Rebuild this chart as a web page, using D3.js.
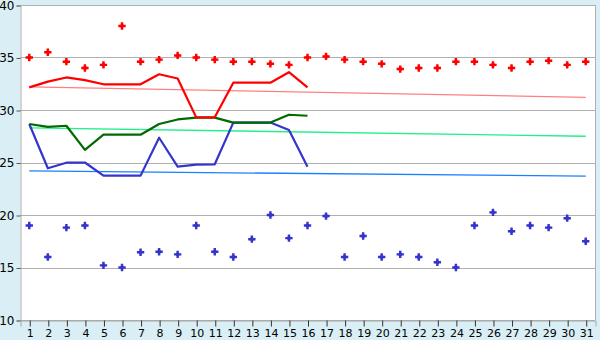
<!DOCTYPE html>
<html>
<head>
<meta charset="utf-8">
<script src="https://cdn.jsdelivr.net/npm/d3@7"></script>
<style>
  html, body { margin: 0; padding: 0; background: #d9eef5; }
  svg { display: block; }
</style>
</head>
<body>
<svg id="chart" width="600" height="340"></svg>
<script>
const days = d3.range(1, 32);
const yTicks = [10, 15, 20, 25, 30, 35, 40];

// scatter series
const redPoints = [35.0, 35.5, 34.6, 34.0, 34.3, 38.0, 34.6, 34.8, 35.2, 35.0,
                   34.8, 34.6, 34.6, 34.4, 34.3, 35.0, 35.1, 34.8, 34.6, 34.4,
                   33.9, 34.0, 34.0, 34.6, 34.6, 34.3, 34.0, 34.6, 34.7, 34.3, 34.6];
const bluePoints = [19.0, 16.0, 18.8, 19.0, 15.2, 15.0, 16.45, 16.5, 16.25, 19.0,
                    16.5, 16.0, 17.7, 20.0, 17.8, 19.0, 19.9, 16.0, 18.0, 16.0,
                    16.25, 16.0, 15.5, 15.0, 19.0, 20.25, 18.45, 19.0, 18.8, 19.7, 17.5];

// thick line series (days 1-16)
const redLine = [32.15, 32.7, 33.1, 32.85, 32.45, 32.45, 32.45, 33.4, 33.0, 29.3,
                 29.3, 32.6, 32.6, 32.6, 33.6, 32.15];
const greenLine = [28.67, 28.4, 28.5, 26.2, 27.65, 27.65, 27.65, 28.67, 29.1, 29.27,
                   29.27, 28.8, 28.8, 28.8, 29.55, 29.45];
const blueLine = [28.67, 24.45, 24.98, 25.0, 23.75, 23.75, 23.75, 27.36, 24.6, 24.8,
                  24.83, 28.8, 28.8, 28.8, 28.1, 24.6];

// trend lines: value at first and last day
const trendDays = [1, 31];
const redTrend = [32.2, 31.2];
const greenTrend = [28.3, 27.5];
const blueTrend = [24.2, 23.7];

const svg = d3.select("#chart");
const pLeft = 20, pRight = 595, pTop = 5, pBottom = 320;

const x = d3.scalePoint().domain(days).range([pLeft, pRight]).padding(0.5);
const y = d3.scaleLinear().domain([10, 40]).range([pBottom, pTop]);

// plot background
svg.append("rect").attr("x", pLeft).attr("y", pTop)
  .attr("width", pRight - pLeft).attr("height", pBottom - pTop)
  .attr("fill", "#ffffff");

// gridlines
svg.append("g").selectAll("line").data(yTicks).join("line")
  .attr("x1", pLeft).attr("x2", pRight)
  .attr("y1", d => Math.round(y(d)) + 0.5).attr("y2", d => Math.round(y(d)) + 0.5)
  .attr("stroke", "#b0b0b0").attr("stroke-width", 1);

// right border
svg.append("line").attr("x1", pRight + 0.5).attr("x2", pRight + 0.5)
  .attr("y1", pTop).attr("y2", pBottom)
  .attr("stroke", "#b0b0b0");

// Y axis
const yAxis = d3.axisLeft(y).tickValues(yTicks).tickSize(4).tickPadding(2);
const gy = svg.append("g").attr("transform", `translate(${pLeft + 0.5},0.5)`).call(yAxis);
gy.select(".domain").attr("stroke", "#a8a8a8");
gy.selectAll(".tick line").attr("stroke", "#555");
gy.selectAll("text").attr("font-family", "DejaVu Sans, Verdana, sans-serif")
  .attr("font-size", 12).attr("fill", "#000");

// X axis
const xAxis = d3.axisBottom(x).tickSize(6).tickPadding(3);
const gx = svg.append("g").attr("transform", `translate(0.5,${pBottom + 0.5})`).call(xAxis);
gx.select(".domain").attr("stroke", "#a8a8a8");
gx.selectAll(".tick line").attr("stroke", "#333");
gx.selectAll("text").attr("font-family", "DejaVu Sans, Verdana, sans-serif")
  .attr("font-size", 11).attr("fill", "#000");

const line = d3.line().x(d => x(d[0])).y(d => y(d[1]));

// trend lines
const trends = [[redTrend, "#ff8080"], [greenTrend, "#22f08a"], [blueTrend, "#1a80ff"]];
trends.forEach(([vals, col]) => {
  svg.append("path")
    .attr("d", line(trendDays.map((d, i) => [d, vals[i]])))
    .attr("fill", "none").attr("stroke", col).attr("stroke-width", 1.3);
});

// thick lines
const thick = [[blueLine, "#3535cc"], [greenLine, "#006a00"], [redLine, "#ff0000"]];
thick.forEach(([vals, col]) => {
  svg.append("path")
    .attr("d", line(vals.map((v, i) => [days[i], v])))
    .attr("fill", "none").attr("stroke", col).attr("stroke-width", 2.2)
    .attr("stroke-linejoin", "round");
});

// markers
const sym = d3.symbol().type(d3.symbolCross).size(30);
const sym2 = d3.symbol().type(d3.symbolSquare).size(10);
[[redPoints, "#ff0000"], [bluePoints, "#3535cc"]].forEach(([vals, col]) => {
  const g = svg.append("g");
  g.selectAll("path.c").data(vals).join("path").attr("class", "c")
    .attr("d", sym)
    .attr("transform", (v, i) => `translate(${x(days[i])},${y(v)})`)
    .attr("fill", col);
  g.selectAll("path.s").data(vals).join("path").attr("class", "s")
    .attr("d", sym2)
    .attr("transform", (v, i) => `translate(${x(days[i])},${y(v)})`)
    .attr("fill", col);
});
</script>
</body>
</html>
